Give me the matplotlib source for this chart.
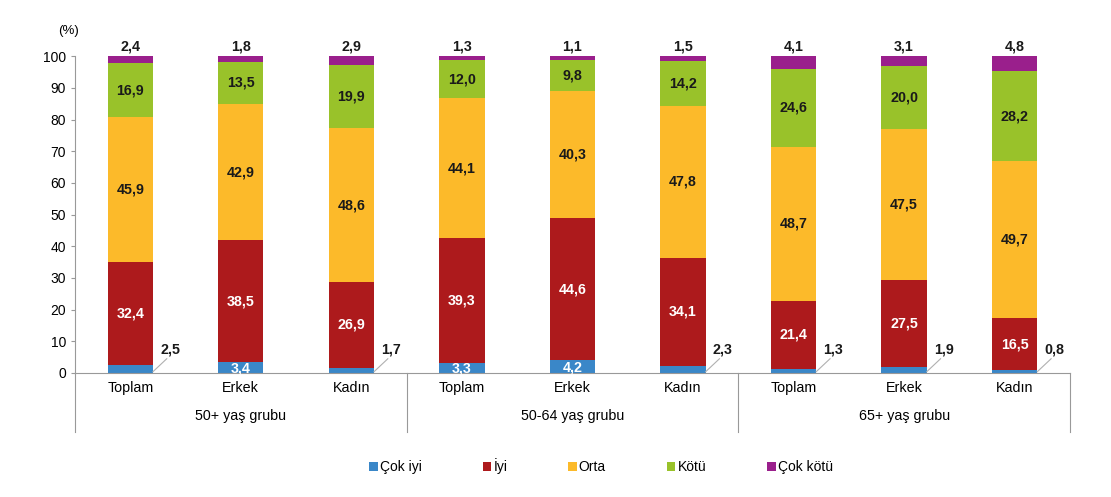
import numpy as np
import matplotlib
matplotlib.use("Agg")
from matplotlib import pyplot as plt

plt.rcParams['font.family'] = ['Liberation Sans', 'DejaVu Sans']

# veriler
kategoriler = ['Toplam', 'Erkek', 'Kadın'] * 3
gruplar = ['50+ yaş grubu', '50-64 yaş grubu', '65+ yaş grubu']
cok_iyi = [2.5, 3.4, 1.7, 3.3, 4.2, 2.3, 1.3, 1.9, 0.8]
iyi = [32.4, 38.5, 26.9, 39.3, 44.6, 34.1, 21.4, 27.5, 16.5]
orta = [45.9, 42.9, 48.6, 44.1, 40.3, 47.8, 48.7, 47.5, 49.7]
kotu = [16.9, 13.5, 19.9, 12.0, 9.8, 14.2, 24.6, 20.0, 28.2]
cok_kotu = [2.4, 1.8, 2.9, 1.3, 1.1, 1.5, 4.1, 3.1, 4.8]

seriler = [cok_iyi, iyi, orta, kotu, cok_kotu]
isimler = ['Çok iyi', 'İyi', 'Orta', 'Kötü', 'Çok kötü']
renkler = ['#3a87c8', '#ad1a1c', '#fcba2a', '#99c22a', '#9a1f8c']

def fmt(v):
    return ('%.1f' % v).replace('.', ',')

fs_lbl = 10.3
fig = plt.figure(figsize=(11.11, 4.97), dpi=100)
ax = fig.add_axes([0.0675, 0.2495, 0.8955, 0.6375])
x = np.arange(len(kategoriler))
w = 0.41
alt = np.zeros(len(x))
for s, (vals, ad, renk) in enumerate(zip(seriler, isimler, renkler)):
    vals = np.array(vals)
    ax.bar(x, vals, w, bottom=alt, color=renk, label=ad, zorder=2)
    for i in range(len(x)):
        v = vals[i]
        if s == 0:
            if v >= 3:
                ax.text(x[i], alt[i] + v / 2 - 0.3, fmt(v), ha='center', va='center',
                        color='white', fontsize=fs_lbl, fontweight='bold')
            else:
                ax.plot([x[i] + w / 2, x[i] + 0.33], [0.4, 4.5], color='#b0b0b0', lw=0.8,
                        zorder=3, clip_on=False)
                ax.text(x[i] + 0.27, 7.3, fmt(v), ha='left', va='center',
                        color='#1a1a1a', fontsize=fs_lbl, fontweight='bold')
        elif s == 4:
            ax.text(x[i], 103.2, fmt(v), ha='center', va='center',
                    color='#1a1a1a', fontsize=fs_lbl, fontweight='bold')
        else:
            c = 'white' if s == 1 else '#1a1a1a'
            ax.text(x[i], alt[i] + v / 2, fmt(v), ha='center', va='center',
                    color=c, fontsize=fs_lbl, fontweight='bold')
    alt = alt + vals

ax.set_xlim(-0.5, 8.5)
ax.set_ylim(0, 100)
ax.set_yticks(range(0, 101, 10))
ax.tick_params(axis='y', labelsize=10, length=3, color='#999999')
ax.set_xticks(x)
ax.set_xticklabels(kategoriler, fontsize=10.3)
ax.tick_params(axis='x', length=0, pad=6)
for k in ['top', 'right']:
    ax.spines[k].set_visible(False)
for k in ['left', 'bottom']:
    ax.spines[k].set_color('#999999')

# grup ayiricilari ve grup etiketleri
for b in [-0.5, 2.5, 5.5, 8.5]:
    ax.plot([b, b], [0, -18.5], color='#999999', lw=0.8, clip_on=False)
for g, ad in enumerate(gruplar):
    ax.text(3 * g + 1, -13.5, ad, ha='center', va='center', fontsize=10.3)

fig.text(0.052, 0.937, '(%)', ha='left', va='center', fontsize=9.5)

fig.legend(loc='center', bbox_to_anchor=(0.541, 0.062), ncol=5, frameon=False,
           fontsize=10, handlelength=0.6, handleheight=0.6, handletextpad=0.15,
           columnspacing=4.4)

fig.savefig('out.png', dpi=100)
